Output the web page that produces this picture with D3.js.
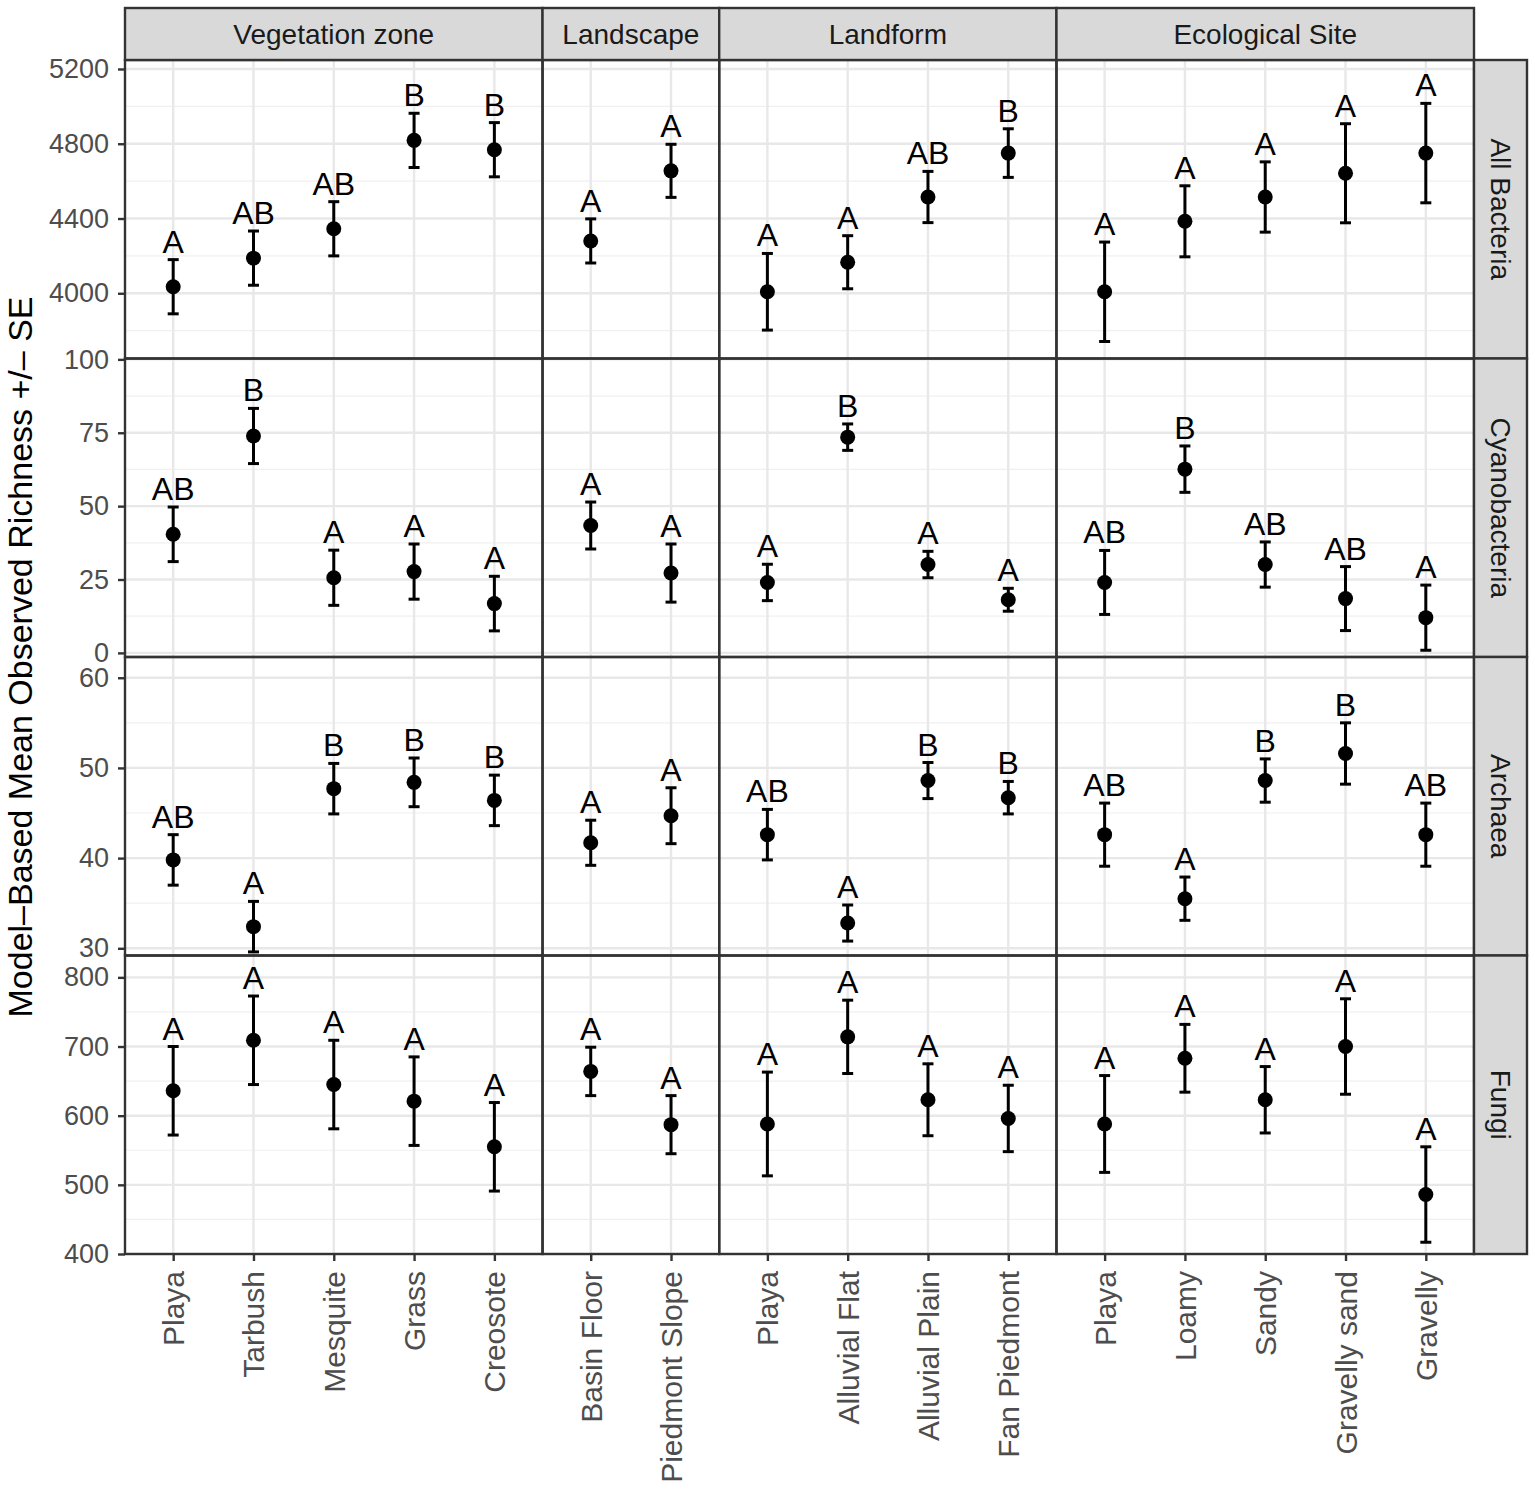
<!DOCTYPE html>
<html>
<head>
	<title>Richness by grouping</title>
	<style>
		body { margin: 0; background: #fff; }
		text { font-family: "Liberation Sans", Arial, Helvetica, sans-serif; }
	</style>
</head>
<body>
	<svg id="canvas" width="1535" height="1492"></svg>
	<script type="text/javascript" src="https://cdn.jsdelivr.net/npm/d3@7"></script>
	<script type="text/javascript">
		// facet columns and their categories
		let groups = ["Vegetation zone", "Landscape", "Landform", "Ecological Site"];
		let vegCats = ["Playa", "Tarbush", "Mesquite", "Grass", "Creosote"];
		let landscapeCats = ["Basin Floor", "Piedmont Slope"];
		let landformCats = ["Playa", "Alluvial Flat", "Alluvial Plain", "Fan Piedmont"];
		let ecoCats = ["Playa", "Loamy", "Sandy", "Gravelly sand", "Gravelly"];
		let categories = [vegCats, landscapeCats, landformCats, ecoCats];

		// facet rows
		let taxa = ["All Bacteria", "Cyanobacteria", "Archaea", "Fungi"];

		// means, standard errors and letters, one inner list per column
		let bacteriaMean = [[4035, 4188, 4345, 4818, 4768], [4280, 4655], [4008, 4166, 4515, 4750], [4008, 4385, 4515, 4642, 4750]];
		let bacteriaSE = [[145, 145, 145, 145, 145], [118, 142], [205, 142, 137, 130], [266, 190, 188, 265, 266]];
		let bacteriaLetters = [["A", "AB", "AB", "B", "B"], ["A", "A"], ["A", "A", "AB", "B"], ["A", "A", "A", "A", "A"]];

		let cyanoMean = [[40.4, 73.9, 25.6, 27.7, 16.8], [43.4, 27.2], [24.0, 73.5, 30.1, 18.1], [24.0, 62.6, 30.1, 18.5, 12.0]];
		let cyanoSE = [[9.3, 9.4, 9.4, 9.4, 9.3], [8.0, 9.9], [6.2, 4.5, 4.5, 3.9], [10.9, 7.9, 7.7, 10.9, 11.1]];
		let cyanoLetters = [["AB", "B", "A", "A", "A"], ["A", "A"], ["A", "B", "A", "A"], ["AB", "B", "AB", "AB", "A"]];

		let archaeaMean = [[39.8, 32.4, 47.7, 48.4, 46.4], [41.7, 44.7], [42.6, 32.8, 48.6, 46.7], [42.6, 35.5, 48.6, 51.6, 42.6]];
		let archaeaSE = [[2.8, 2.8, 2.8, 2.7, 2.8], [2.5, 3.1], [2.8, 2.0, 2.0, 1.8], [3.5, 2.4, 2.4, 3.4, 3.5]];
		let archaeaLetters = [["AB", "A", "B", "B", "B"], ["A", "A"], ["AB", "A", "B", "B"], ["AB", "A", "B", "B", "AB"]];

		let fungiMean = [[636, 709, 645, 621, 555], [664, 587], [588, 714, 623, 596], [588, 683, 623, 700, 486]];
		let fungiSE = [[64, 64, 64, 64, 64], [35, 42], [75, 53, 52, 48], [70, 49, 48, 69, 69]];
		let fungiLetters = [["A", "A", "A", "A", "A"], ["A", "A"], ["A", "A", "A", "A"], ["A", "A", "A", "A", "A"]];

		let means = [bacteriaMean, cyanoMean, archaeaMean, fungiMean];
		let ses = [bacteriaSE, cyanoSE, archaeaSE, fungiSE];
		let letters = [bacteriaLetters, cyanoLetters, archaeaLetters, fungiLetters];

		// y axis limits and ticks per row
		let yDomains = [[3651, 5248], [-1.4, 100.3], [29.2, 62.3], [400, 831.6]];
		let yTicks = [[4000, 4400, 4800, 5200], [0, 25, 50, 75, 100], [30, 40, 50, 60], [400, 500, 600, 700, 800]];

		let svg = d3.select("#canvas");

		let pLeft = 125, pRight = 1474, pTop = 60, pBottom = 1254;
		let stripTop = 8, stripRight = 1527;
		let rowH = (pBottom - pTop) / taxa.length;

		// free x space: each column gets n - 1 + 1.2 units
		let units = categories.map(function(c){ return c.length + 0.2; });
		let unitW = (pRight - pLeft) / d3.sum(units);
		let colX = [pLeft];
		units.forEach(function(u, i){ colX.push(colX[i] + u * unitW); });

		let xScales = categories.map(function(c, i){
			return d3.scalePoint().domain(c).range([colX[i], colX[i + 1]]).padding(0.6);
		});
		let yScales = taxa.map(function(t, r){
			return d3.scaleLinear().domain(yDomains[r]).range([pTop + (r + 1) * rowH, pTop + r * rowH]);
		});

		let grid = svg.append("g");
		let marks = svg.append("g");
		let frame = svg.append("g");

		taxa.forEach(function(t, r){
			let y = yScales[r];
			let y0 = pTop + r * rowH, y1 = pTop + (r + 1) * rowH;
			let ticks = yTicks[r];
			let step = ticks[1] - ticks[0];
			let minor = [];
			for (let k = -1; k < ticks.length; k++) minor.push(ticks[0] + step * (k + 0.5));
			minor = minor.filter(function(v){ return v > yDomains[r][0] && v < yDomains[r][1]; });

			groups.forEach(function(g, c){
				let x = xScales[c];
				let x0 = colX[c], x1 = colX[c + 1];

				grid.selectAll(null).data(minor).enter().append("line")
					.attr("x1", x0).attr("x2", x1)
					.attr("y1", function(d){ return y(d); }).attr("y2", function(d){ return y(d); })
					.attr("stroke", "#f0f0f0").attr("stroke-width", 1.2);
				grid.selectAll(null).data(ticks).enter().append("line")
					.attr("x1", x0).attr("x2", x1)
					.attr("y1", function(d){ return y(d); }).attr("y2", function(d){ return y(d); })
					.attr("stroke", "#e8e8e8").attr("stroke-width", 2.4);
				grid.selectAll(null).data(categories[c]).enter().append("line")
					.attr("x1", function(d){ return x(d); }).attr("x2", function(d){ return x(d); })
					.attr("y1", y0).attr("y2", y1)
					.attr("stroke", "#e8e8e8").attr("stroke-width", 2.4);

				let data = categories[c].map(function(cat, i){
					return { cat: cat, mean: means[r][c][i], se: ses[r][c][i], letter: letters[r][c][i] };
				});

				let pts = marks.append("g");
				pts.selectAll(".err").data(data).enter().append("line")
					.attr("x1", function(d){ return x(d.cat); }).attr("x2", function(d){ return x(d.cat); })
					.attr("y1", function(d){ return y(d.mean - d.se); })
					.attr("y2", function(d){ return y(d.mean + d.se); })
					.attr("stroke", "#000").attr("stroke-width", 3);
				[-1, 1].forEach(function(sgn){
					pts.selectAll(null).data(data).enter().append("line")
						.attr("x1", function(d){ return x(d.cat) - 5.5; }).attr("x2", function(d){ return x(d.cat) + 5.5; })
						.attr("y1", function(d){ return y(d.mean + sgn * d.se); })
						.attr("y2", function(d){ return y(d.mean + sgn * d.se); })
						.attr("stroke", "#000").attr("stroke-width", 3);
				});
				pts.selectAll("circle").data(data).enter().append("circle")
					.attr("cx", function(d){ return x(d.cat); })
					.attr("cy", function(d){ return y(d.mean); })
					.attr("r", 7.5)
					.attr("fill", "#000");
				pts.selectAll("text").data(data).enter().append("text")
					.attr("x", function(d){ return x(d.cat); })
					.attr("y", function(d){ return y(d.mean + d.se) - 7; })
					.attr("text-anchor", "middle")
					.attr("font-size", 32)
					.attr("fill", "#000")
					.text(function(d){ return d.letter; });

				frame.append("rect")
					.attr("x", x0).attr("y", y0)
					.attr("width", x1 - x0).attr("height", y1 - y0)
					.attr("fill", "none").attr("stroke", "#333").attr("stroke-width", 2.4);

				// x axis on the bottom row
				if (r == taxa.length - 1) {
					let xa = frame.append("g")
						.attr("transform", "translate(0," + pBottom + ")")
						.call(d3.axisBottom(x).tickSize(7).tickSizeOuter(0));
					xa.select(".domain").remove();
					xa.selectAll("line").attr("stroke", "#333").attr("stroke-width", 2.4);
					xa.selectAll("text")
						.attr("font-size", 30)
						.attr("fill", "#4d4d4d")
						.attr("transform", "rotate(-90)")
						.attr("x", -17).attr("y", 0).attr("dy", "0.35em")
						.attr("text-anchor", "end");
				}
			});

			// y axis on the left
			let ya = frame.append("g")
				.attr("transform", "translate(" + pLeft + ",0)")
				.call(d3.axisLeft(y).tickValues(ticks).tickFormat(d3.format("d")).tickSize(7).tickSizeOuter(0));
			ya.select(".domain").remove();
			ya.selectAll("line").attr("stroke", "#333").attr("stroke-width", 2.4);
			ya.selectAll("text").attr("font-size", 27).attr("fill", "#4d4d4d").attr("x", -16);

			// right strip
			frame.append("rect")
				.attr("x", pRight).attr("y", y0)
				.attr("width", stripRight - pRight).attr("height", y1 - y0)
				.attr("fill", "#d9d9d9").attr("stroke", "#333").attr("stroke-width", 2.4);
			frame.append("text")
				.attr("transform", "translate(" + ((pRight + stripRight) / 2) + "," + ((y0 + y1) / 2) + ") rotate(90)")
				.attr("text-anchor", "middle").attr("dy", "0.35em")
				.attr("font-size", 28).attr("fill", "#1a1a1a")
				.text(t);
		});

		// top strips
		groups.forEach(function(g, c){
			frame.append("rect")
				.attr("x", colX[c]).attr("y", stripTop)
				.attr("width", colX[c + 1] - colX[c]).attr("height", pTop - stripTop)
				.attr("fill", "#d9d9d9").attr("stroke", "#333").attr("stroke-width", 2.4);
			frame.append("text")
				.attr("x", (colX[c] + colX[c + 1]) / 2).attr("y", (stripTop + pTop) / 2)
				.attr("text-anchor", "middle").attr("dy", "0.35em")
				.attr("font-size", 28).attr("fill", "#1a1a1a")
				.text(g);
		});

		// y title
		svg.append("text")
			.attr("transform", "translate(20," + ((pTop + pBottom) / 2) + ") rotate(-90)")
			.attr("text-anchor", "middle").attr("dy", "0.35em")
			.attr("font-size", 34).attr("fill", "#000")
			.text("Model\u2013Based Mean Observed Richness +/\u2013 SE");
	</script>
</body>
</html>
